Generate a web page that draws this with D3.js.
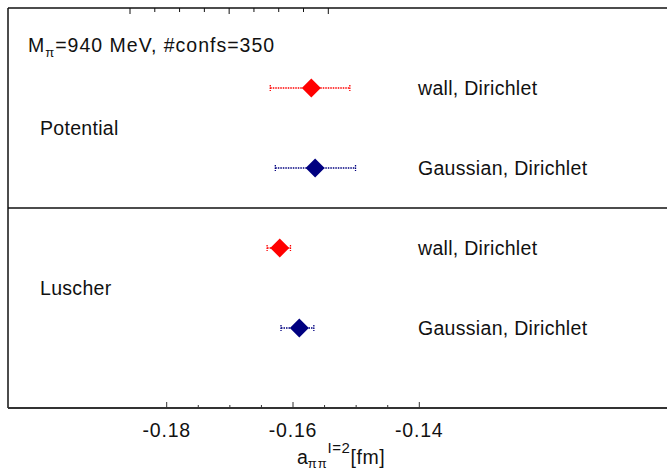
<!DOCTYPE html>
<html>
<head>
<meta charset="utf-8">
<script src="https://cdn.jsdelivr.net/npm/d3@7"></script>
<style>
  html, body { margin: 0; padding: 0; background: #fff; }
  svg text { font-family: "Liberation Sans", Arial, Helvetica, sans-serif; fill: #111; }
</style>
</head>
<body>
<svg id="chart" width="667" height="473"></svg>
<script>
// ---- data ----
const methods   = ["Potential", "Luscher"];
const rowLabels = ["wall, Dirichlet", "Gaussian, Dirichlet", "wall, Dirichlet", "Gaussian, Dirichlet"];
const values    = [-0.1571, -0.1565, -0.1621, -0.1590];
const errLow    = [-0.1636, -0.1628, -0.1641, -0.1619];
const errHigh   = [-0.1510, -0.1501, -0.1604, -0.1567];
const colors    = ["#ff0000", "#000080", "#ff0000", "#000080"];
const xTicks    = [-0.18, -0.16, -0.14];
const xMinor    = [-0.175, -0.17, -0.165, -0.155, -0.15, -0.145];
const topMajor  = [0, 1, 2];
const topMinor  = [0.25, 0.5, 0.75, 1.25, 1.5, 1.75];

const svg = d3.select("#chart");
const pL = 8, pT = 8, pB = 408, pR = 680;
const FS = 19.5;

const x = d3.scaleLinear().domain([-0.18, -0.14]).range([166.7, 419.3]);
const y = d3.scaleLinear().domain([0, 5]).range([pT, pB]);
const xTop = d3.scaleLinear().domain([0, 2]).range([130, 328.3]);

// frame
svg.append("line").attr("x1", pL).attr("x2", pR).attr("y1", pT).attr("y2", pT)
  .attr("stroke", "#111").attr("stroke-width", 1.5);
svg.append("line").attr("x1", pL).attr("x2", pL).attr("y1", pT).attr("y2", pB)
  .attr("stroke", "#111").attr("stroke-width", 1.5);
svg.append("line").attr("x1", pL).attr("x2", pR).attr("y1", pB).attr("y2", pB)
  .attr("stroke", "#333").attr("stroke-width", 2);
svg.append("line").attr("x1", pL).attr("x2", pR).attr("y1", y(2.5)).attr("y2", y(2.5))
  .attr("stroke", "#111").attr("stroke-width", 1.5);

// bottom ticks (inside)
const tickG = svg.append("g");
tickG.selectAll(".maj").data(xTicks).join("line").attr("class", "maj")
  .attr("x1", d => x(d)).attr("x2", d => x(d)).attr("y1", pB).attr("y2", pB - 6)
  .attr("stroke", "#333").attr("stroke-width", 1);
tickG.selectAll(".min").data(xMinor).join("line").attr("class", "min")
  .attr("x1", d => x(d)).attr("x2", d => x(d)).attr("y1", pB).attr("y2", pB - 3)
  .attr("stroke", "#333").attr("stroke-width", 1);
// top ticks
tickG.selectAll(".tmaj").data(topMajor).join("line").attr("class", "tmaj")
  .attr("x1", d => xTop(d)).attr("x2", d => xTop(d)).attr("y1", pT).attr("y2", pT + 6)
  .attr("stroke", "#111").attr("stroke-width", 1);
tickG.selectAll(".tmin").data(topMinor).join("line").attr("class", "tmin")
  .attr("x1", d => xTop(d)).attr("x2", d => xTop(d)).attr("y1", pT).attr("y2", pT + 4)
  .attr("stroke", "#111").attr("stroke-width", 1);

// tick labels
svg.append("g").selectAll("text").data(xTicks).join("text")
  .attr("x", d => x(d)).attr("y", 437).attr("text-anchor", "middle")
  .attr("font-size", FS).attr("letter-spacing", 0.8).text(d => d.toFixed(2));

// axis title
const title = svg.append("text").attr("x", 297).attr("y", 464).attr("font-size", FS);
title.append("tspan").text("a");
title.append("tspan").attr("dy", 4).attr("font-size", 13).attr("letter-spacing", 0.8).text("ππ");
title.append("tspan").attr("dy", -15).attr("font-size", 15).attr("letter-spacing", 0.6).text("I=2");
title.append("tspan").attr("dy", 11).attr("letter-spacing", 0.6).text("[fm]");

// header text
const hdr = svg.append("text").attr("x", 28).attr("y", 52).attr("font-size", FS).attr("letter-spacing", 1.0);
hdr.append("tspan").text("M");
hdr.append("tspan").attr("dy", 5).attr("font-size", 13).text("π");
hdr.append("tspan").attr("dy", -5).text("=940 MeV, #confs=350");

// method labels
svg.append("g").selectAll("text").data(methods).join("text")
  .attr("x", 40).attr("y", (d, i) => y(1.5 + 2 * i) + 7)
  .attr("font-size", FS).attr("letter-spacing", 0.3).text(d => d);

// row labels
svg.append("g").selectAll("text").data(rowLabels).join("text")
  .attr("x", 418).attr("y", (d, i) => y(i + 1) + 7)
  .attr("font-size", FS).attr("letter-spacing", 0.3).text(d => d);

// error bars
const eb = svg.append("g");
eb.selectAll(".bar").data(values).join("line").attr("class", "bar")
  .attr("x1", (d, i) => x(errLow[i])).attr("x2", (d, i) => x(errHigh[i]))
  .attr("y1", (d, i) => y(i + 1)).attr("y2", (d, i) => y(i + 1))
  .attr("stroke", (d, i) => colors[i]).attr("stroke-width", 1.3)
  .attr("stroke-dasharray", "1.5,1");
eb.selectAll(".capL").data(values).join("line").attr("class", "capL")
  .attr("x1", (d, i) => x(errLow[i])).attr("x2", (d, i) => x(errLow[i]))
  .attr("y1", (d, i) => y(i + 1) - 3).attr("y2", (d, i) => y(i + 1) + 3)
  .attr("stroke", (d, i) => colors[i]).attr("stroke-width", 1.3).attr("stroke-dasharray", "1.5,1");
eb.selectAll(".capR").data(values).join("line").attr("class", "capR")
  .attr("x1", (d, i) => x(errHigh[i])).attr("x2", (d, i) => x(errHigh[i]))
  .attr("y1", (d, i) => y(i + 1) - 3).attr("y2", (d, i) => y(i + 1) + 3)
  .attr("stroke", (d, i) => colors[i]).attr("stroke-width", 1.3).attr("stroke-dasharray", "1.5,1");

// diamonds
const r = 9.5;
svg.append("g").selectAll("path").data(values).join("path")
  .attr("d", (d, i) => {
    const cx = x(d), cy = y(i + 1);
    return `M${cx},${cy - r}L${cx + r},${cy}L${cx},${cy + r}L${cx - r},${cy}Z`;
  })
  .attr("fill", (d, i) => colors[i]);
</script>
</body>
</html>
